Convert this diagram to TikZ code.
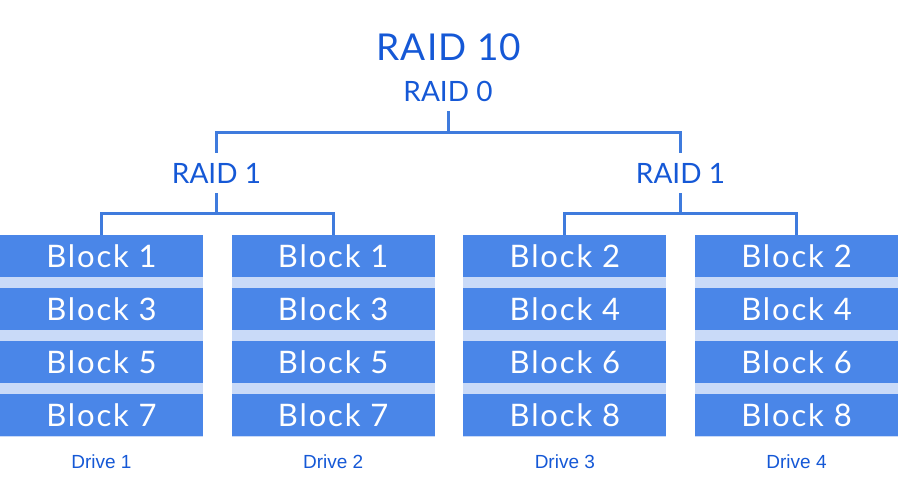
\documentclass[tikz,border=0pt]{standalone}
\usepackage{fontspec}
\setmainfont{Lato}
\newfontfamily\drivefont{Liberation Sans}
\newfontfamily\blockfont[LetterSpace=6]{Lato}
\newfontfamily\titlefont[LetterSpace=3]{Lato}
\usetikzlibrary{positioning}

\definecolor{raidtext}{HTML}{1558D6}
\definecolor{raidline}{HTML}{3F7BDD}
\definecolor{blockfill}{HTML}{4A86E8}
\definecolor{stripefill}{HTML}{C9DAF8}

\tikzset{
 lvl/.style={text=raidtext, inner sep=0, minimum height=40, font=\fontsize{28}{28}\selectfont},
 blk/.style={fill=blockfill, text=white, minimum width=203, minimum height=42, inner sep=0, font=\blockfont\fontsize{31}{31}\selectfont},
 drv/.style={text=raidtext, inner sep=0, font=\drivefont\fontsize{19}{19}\selectfont},
 link/.style={draw=raidline, line width=3},
}

\begin{document}
\begin{tikzpicture}[x=1pt,y=-1pt]
\useasboundingbox (0,0) rectangle (898,500);
\node[text=raidtext, inner sep=0, font=\titlefont\fontsize{37}{37}\selectfont] (title) at (449,47) {RAID 10};
\node[lvl] (raid0) at (448,91) {RAID 0};
\node[lvl] (raidA) at (216.5,173) {RAID 1};
\node[lvl] (raidB) at (680.5,173) {RAID 1};
% drives
\foreach \d/\a/\b/\c/\e in {1/1/3/5/7, 2/1/3/5/7, 3/2/4/6/8, 4/2/4/6/8} {
 \pgfmathsetmacro{\xc}{101.5+231.67*(\d-1)}
 \fill[stripefill] (\xc-101.5,235) rectangle ++(203,202);
 \node[blk] (d\d b1) at (\xc,256) {Block \a};
 \node[blk] (d\d b2) at (\xc,309) {Block \b};
 \node[blk] (d\d b3) at (\xc,362) {Block \c};
 \node[blk] (d\d b4) at (\xc,415) {Block \e};
 \node[drv] (drive\d) at (\xc,462) {Drive \d};
}
\draw[link] (raid0.south) -- ++(0,21) coordinate (j0);
\draw[link] (raidA.north) |- (j0) -| (raidB.north);
\draw[link] (raidA.south) -- ++(0,20) coordinate (jA);
\draw[link] (d1b1.north) |- (jA) -| (d2b1.north);
\draw[link] (raidB.south) -- ++(0,20) coordinate (jB);
\draw[link] (d3b1.north) |- (jB) -| (d4b1.north);
\end{tikzpicture}
\end{document}
